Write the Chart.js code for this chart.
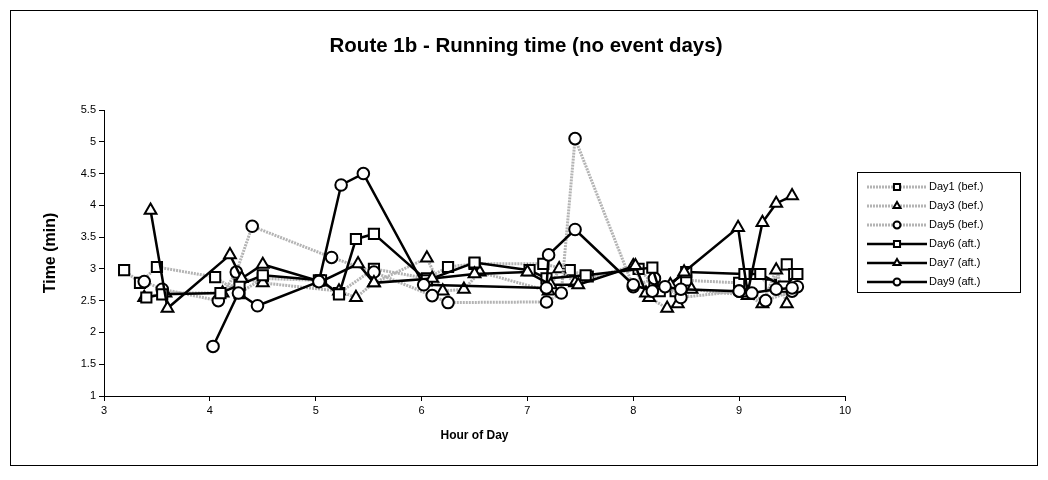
<!DOCTYPE html>
<html>
<head>
<meta charset="utf-8">
<script src="https://cdn.jsdelivr.net/npm/chart.js@4"></script>
<style>
  html, body { margin: 0; padding: 0; background: #fff; }
  canvas { display: block; }
</style>
</head>
<body>
<canvas id="routeChart" width="1048" height="480"></canvas>
<script>
// Datos (hora del día / tiempo en min)
const seriesNames = ['Day1 (bef.)', 'Day3 (bef.)', 'Day5 (bef.)', 'Day6 (aft.)', 'Day7 (aft.)', 'Day9 (aft.)'];

const day1Hours = [3.19, 3.34, 3.5, 4.05, 4.28, 4.5, 5.03, 5.22, 5.55, 6.05, 6.25, 6.5, 7.15, 7.4, 7.57, 8.05, 8.2, 8.4, 8.5, 9.0, 9.15, 9.3, 9.45, 9.52];
const day1Times = [2.98, 2.78, 3.03, 2.87, 2.62, 2.85, 2.82, 2.62, 3.0, 2.85, 3.03, 3.08, 3.08, 2.98, 2.88, 3.0, 2.75, 2.65, 2.82, 2.78, 2.92, 2.75, 3.07, 2.92];

const day3Hours = [3.38, 3.58, 4.12, 4.3, 4.5, 5.22, 5.38, 5.55, 6.05, 6.2, 6.4, 6.55, 7.2, 7.3, 7.45, 8.0, 8.15, 8.32, 8.42, 8.55, 9.08, 9.22, 9.35, 9.45];
const day3Times = [2.55, 2.62, 2.62, 2.85, 2.78, 2.65, 2.55, 2.78, 3.17, 2.65, 2.68, 2.95, 2.65, 3.0, 2.78, 3.05, 2.55, 2.38, 2.45, 2.68, 2.58, 2.45, 2.98, 2.45];

const day5Hours = [3.38, 3.55, 4.08, 4.25, 4.4, 5.15, 5.55, 6.1, 6.25, 7.18, 7.32, 7.45, 8.0, 8.2, 8.45, 9.0, 9.25, 9.5, 9.55];
const day5Times = [2.8, 2.68, 2.5, 2.95, 3.67, 3.18, 2.95, 2.58, 2.47, 2.48, 2.62, 5.05, 2.72, 2.85, 2.55, 2.65, 2.5, 2.65, 2.72];

const day6Hours = [3.4, 3.55, 4.1, 4.28, 4.5, 5.05, 5.22, 5.38, 5.55, 6.05, 6.5, 7.02, 7.18, 7.55, 8.18, 8.25, 8.5, 9.05, 9.2, 9.42, 9.55];
const day6Times = [2.55, 2.6, 2.62, 2.75, 2.9, 2.82, 2.6, 3.47, 3.55, 2.82, 3.1, 2.98, 2.85, 2.9, 3.02, 2.65, 2.95, 2.92, 2.92, 2.72, 2.92];

const day7Hours = [3.44, 3.6, 4.19, 4.3, 4.5, 5.05, 5.4, 5.55, 6.1, 6.5, 7.0, 7.22, 7.48, 8.02, 8.12, 8.35, 8.48, 8.99, 9.08, 9.22, 9.35, 9.5];
const day7Times = [3.92, 2.38, 3.22, 2.85, 3.07, 2.8, 3.08, 2.78, 2.85, 2.92, 2.95, 2.75, 2.75, 3.05, 2.62, 2.75, 2.95, 3.65, 2.62, 3.73, 4.03, 4.15];

const day9Hours = [4.03, 4.27, 4.45, 5.03, 5.24, 5.45, 6.02, 7.18, 7.2, 7.45, 8.0, 8.18, 8.3, 8.45, 9.0, 9.12, 9.35, 9.5];
const day9Times = [1.78, 2.62, 2.42, 2.8, 4.32, 4.5, 2.75, 2.7, 3.22, 3.62, 2.75, 2.65, 2.72, 2.68, 2.65, 2.62, 2.68, 2.7];

const xTicks = [3, 4, 5, 6, 7, 8, 9, 10];
const yTicks = [1, 1.5, 2, 2.5, 3, 3.5, 4, 4.5, 5, 5.5];

const FONT = 'Arial, "Liberation Sans", sans-serif';

function toPoints(hours, times) {
    return hours.map((h, i) => ({ x: h, y: times[i] }));
}

function makeSeries(label, hours, times, after, shape, radius, order) {
    return {
        label: label,
        data: toPoints(hours, times),
        showLine: true,
        borderColor: after ? '#000000' : '#b4b4b4',
        borderWidth: after ? 2.5 : 3,
        borderDash: after ? [] : [2, 1],
        pointStyle: shape,
        pointRadius: radius,
        pointBorderWidth: 2,
        pointBorderColor: '#000000',
        pointBackgroundColor: '#ffffff',
        order: order
    };
}

const datasets = [
    makeSeries(seriesNames[0], day1Hours, day1Times, false, 'rect', 7.2, 6),
    makeSeries(seriesNames[1], day3Hours, day3Times, false, 'triangle', 6.8, 5),
    makeSeries(seriesNames[2], day5Hours, day5Times, false, 'circle', 5.8, 4),
    makeSeries(seriesNames[3], day6Hours, day6Times, true, 'rect', 7.2, 3),
    makeSeries(seriesNames[4], day7Hours, day7Times, true, 'triangle', 6.8, 2),
    makeSeries(seriesNames[5], day9Hours, day9Times, true, 'circle', 5.8, 1)
];

// Marco, título y leyenda dibujados a mano
const framePlugin = {
    id: 'frame',
    beforeDraw(chart) {
        const ctx = chart.ctx;
        ctx.save();
        ctx.fillStyle = '#ffffff';
        ctx.fillRect(0, 0, chart.width, chart.height);
        ctx.strokeStyle = '#000000';
        ctx.lineWidth = 1;
        ctx.strokeRect(10.5, 10.5, 1027, 455);
        ctx.fillStyle = '#000000';
        ctx.font = 'bold 20.5px ' + FONT;
        ctx.textAlign = 'center';
        ctx.textBaseline = 'middle';
        ctx.fillText('Route 1b - Running time (no event days)', 526, 46);
        ctx.restore();
    },
    afterDraw(chart) {
        const ctx = chart.ctx;
        const boxX = 857, boxY = 172, boxW = 163, boxH = 120;
        ctx.save();
        ctx.strokeStyle = '#000000';
        ctx.lineWidth = 1;
        ctx.strokeRect(boxX + 0.5, boxY + 0.5, boxW, boxH);
        ctx.font = '11px ' + FONT;
        ctx.textBaseline = 'middle';
        ctx.textAlign = 'left';
        chart.data.datasets.forEach((ds, i) => {
            const y = boxY + 15 + i * 19;
            ctx.save();
            ctx.strokeStyle = ds.borderColor;
            ctx.lineWidth = ds.borderWidth;
            ctx.setLineDash(ds.borderDash);
            ctx.beginPath();
            ctx.moveTo(867, y);
            ctx.lineTo(927, y);
            ctx.stroke();
            ctx.restore();
            ctx.save();
            ctx.strokeStyle = '#000000';
            ctx.fillStyle = '#ffffff';
            ctx.lineWidth = 2;
            Chart.helpers.drawPoint(ctx, { pointStyle: ds.pointStyle, radius: ds.pointRadius * 0.6, rotation: 0, borderWidth: 2 }, 897, y);
            ctx.restore();
            ctx.fillStyle = '#000000';
            ctx.fillText(ds.label, 929, y);
        });
        ctx.restore();
    }
};

const ctx = document.getElementById('routeChart').getContext('2d');
const routeChart = new Chart(ctx, {
    type: 'scatter',
    data: { datasets: datasets },
    options: {
        responsive: false,
        animation: false,
        layout: {
            padding: { left: 41, top: 110, right: 203, bottom: 37 }
        },
        plugins: {
            legend: { display: false },
            title: { display: false },
            tooltip: { enabled: false }
        },
        scales: {
            x: {
                type: 'linear',
                min: 3,
                max: 10,
                afterBuildTicks: scale => { scale.ticks = xTicks.map(v => ({ value: v })); },
                afterFit: scale => { scale.height = 47; },
                ticks: { color: '#000', font: { family: FONT, size: 11 }, padding: 3, callback: v => String(v) },
                grid: { display: true, drawOnChartArea: false, tickLength: 5, color: '#000', tickColor: '#000' },
                border: { color: '#000', width: 1 },
                title: { display: true, text: 'Hour of Day', color: '#000', font: { family: FONT, size: 12, weight: 'bold' }, padding: 0 }
            },
            y: {
                type: 'linear',
                min: 1,
                max: 5.5,
                afterBuildTicks: scale => { scale.ticks = yTicks.map(v => ({ value: v })); },
                afterFit: scale => { scale.width = 63; },
                ticks: { color: '#000', font: { family: FONT, size: 11 }, padding: 3, callback: v => String(v) },
                grid: { display: true, drawOnChartArea: false, tickLength: 5, color: '#000', tickColor: '#000' },
                border: { color: '#000', width: 1 },
                title: { display: true, text: 'Time (min)', color: '#000', font: { family: FONT, size: 16, weight: 'bold' }, padding: 0 }
            }
        }
    },
    plugins: [framePlugin]
});
</script>
</body>
</html>
